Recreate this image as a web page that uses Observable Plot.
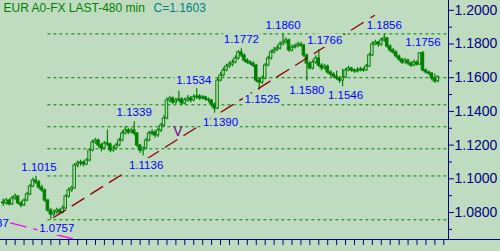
<!DOCTYPE html>
<html><head><meta charset="utf-8">
<script src="https://cdn.jsdelivr.net/npm/d3@7"></script>
<script src="https://cdn.jsdelivr.net/npm/@observablehq/plot@0.6"></script>
<style>
html,body{margin:0;padding:0;background:#c0dcc0;}
#chart svg{display:block;}
</style></head><body><div id="chart"></div>
<script>
const title = "EUR A0-FX LAST-480 min";
const firstOpen = 1.0860;
const closes = [
1.0854,1.0871,1.0848,1.0883,1.0895,1.0854,1.0842,1.0871,1.0907,1.0954,
1.0990,1.0978,1.0948,1.0931,1.0871,1.0812,1.0788,1.0800,1.0812,1.0800,
1.0824,1.0895,1.0931,1.0943,1.1079,1.1091,1.1097,1.1085,1.1109,1.1168,
1.1216,1.1227,1.1198,1.1180,1.1210,1.1204,1.1168,1.1180,1.1198,1.1227,
1.1269,1.1287,1.1275,1.1287,1.1269,1.1198,1.1168,1.1180,1.1227,1.1269,
1.1275,1.1257,1.1287,1.1316,1.1358,1.1465,1.1477,1.1453,1.1465,1.1471,
1.1447,1.1465,1.1477,1.1465,1.1483,1.1489,1.1477,1.1483,1.1471,1.1465,
1.1441,1.1417,1.1583,1.1613,1.1643,1.1667,1.1678,1.1690,1.1714,1.1750,
1.1732,1.1702,1.1690,1.1684,1.1672,1.1583,1.1572,1.1595,1.1672,1.1714,
1.1750,1.1762,1.1773,1.1797,1.1809,1.1821,1.1762,1.1779,1.1785,1.1797,
1.1791,1.1732,1.1684,1.1655,1.1690,1.1714,1.1672,1.1655,1.1666,1.1631,
1.1619,1.1607,1.1595,1.1583,1.1601,1.1643,1.1655,1.1643,1.1637,1.1643,
1.1649,1.1643,1.1666,1.1732,1.1797,1.1809,1.1797,1.1821,1.1833,1.1785,
1.1762,1.1750,1.1726,1.1708,1.1690,1.1702,1.1684,1.1672,1.1690,1.1678,
1.1745,1.1643,1.1631,1.1625,1.1595,1.1578,1.1603];
const highs = [
1.0880,1.0885,1.0878,1.0897,1.0910,1.0900,1.0866,1.0880,1.0918,1.0968,
1.1005,1.1015,1.0990,1.0962,1.0940,1.0878,1.0825,1.0815,1.0825,1.0822,
1.0840,1.0905,1.0945,1.0958,1.1090,1.1105,1.1110,1.1105,1.1120,1.1180,
1.1230,1.1240,1.1235,1.1210,1.1222,1.1290,1.1212,1.1195,1.1210,1.1240,
1.1285,1.1310,1.1300,1.1300,1.1339,1.1275,1.1205,1.1190,1.1240,1.1282,
1.1292,1.1285,1.1300,1.1330,1.1375,1.1480,1.1490,1.1485,1.1478,1.1520,
1.1482,1.1478,1.1495,1.1488,1.1500,1.1534,1.1500,1.1495,1.1490,1.1480,
1.1470,1.1450,1.1595,1.1630,1.1660,1.1680,1.1695,1.1705,1.1730,1.1760,
1.1772,1.1740,1.1712,1.1700,1.1695,1.1680,1.1595,1.1610,1.1685,1.1728,
1.1765,1.1780,1.1790,1.1812,1.1860,1.1835,1.1830,1.1795,1.1800,1.1812,
1.1810,1.1800,1.1740,1.1695,1.1705,1.1730,1.1766,1.1685,1.1680,1.1675,
1.1642,1.1630,1.1640,1.1605,1.1650,1.1655,1.1668,1.1662,1.1652,1.1660,
1.1662,1.1658,1.1680,1.1745,1.1812,1.1822,1.1815,1.1835,1.1856,1.1840,
1.1795,1.1775,1.1760,1.1735,1.1715,1.1715,1.1710,1.1695,1.1705,1.1700,
1.1750,1.1756,1.1652,1.1640,1.1630,1.1620,1.1612];
const lows = [
1.0835,1.0845,1.0838,1.0842,1.0872,1.0846,1.0828,1.0835,1.0864,1.0900,
1.0948,1.0965,1.0935,1.0920,1.0860,1.0800,1.0757,1.0775,1.0790,1.0785,
1.0792,1.0815,1.0885,1.0920,1.0938,1.1065,1.1075,1.1070,1.1078,1.1100,
1.1160,1.1205,1.1185,1.1160,1.1170,1.1192,1.1155,1.1158,1.1170,1.1190,
1.1220,1.1260,1.1262,1.1268,1.1255,1.1185,1.1150,1.1136,1.1172,1.1220,
1.1255,1.1240,1.1245,1.1275,1.1305,1.1350,1.1452,1.1440,1.1442,1.1455,
1.1435,1.1438,1.1455,1.1450,1.1458,1.1470,1.1465,1.1468,1.1460,1.1450,
1.1425,1.1390,1.1410,1.1575,1.1605,1.1635,1.1655,1.1665,1.1682,1.1705,
1.1720,1.1690,1.1680,1.1672,1.1660,1.1570,1.1525,1.1560,1.1588,1.1665,
1.1705,1.1740,1.1755,1.1765,1.1790,1.1800,1.1750,1.1752,1.1770,1.1778,
1.1780,1.1720,1.1580,1.1645,1.1645,1.1680,1.1660,1.1640,1.1645,1.1620,
1.1605,1.1595,1.1585,1.1565,1.1546,1.1595,1.1635,1.1632,1.1625,1.1628,
1.1635,1.1632,1.1638,1.1660,1.1725,1.1790,1.1780,1.1785,1.1810,1.1772,
1.1750,1.1738,1.1715,1.1695,1.1678,1.1682,1.1672,1.1660,1.1665,1.1668,
1.1672,1.1635,1.1620,1.1612,1.1580,1.1565,1.1570];

const yTicks = [1.08, 1.10, 1.12, 1.14, 1.16, 1.18, 1.20];
const yMinorTicks = [1.07, 1.09, 1.11, 1.13, 1.15, 1.17, 1.19];
const fibLevels = [1.1860, 1.1600, 1.1439, 1.1309, 1.1178, 1.1017, 1.0757];
const fibStartBar = 15;
const highLabels = [
  {i: 12, v: 1.1015}, {i: 44, v: 1.1339}, {i: 64, v: 1.1534}, {i: 80, v: 1.1772},
  {i: 94, v: 1.1860}, {i: 108, v: 1.1766}, {i: 128, v: 1.1856}, {i: 141, v: 1.1756}];
const lowLabels = [
  {i: -4, v: 1.0787}, {i: 18, v: 1.0757}, {i: 48, v: 1.1136}, {i: 73, v: 1.1390},
  {i: 87, v: 1.1525}, {i: 102, v: 1.1580}, {i: 115, v: 1.1546}];
const trendLine = [{i: 16.9, v: 1.0770}, {i: 124.7, v: 1.1969}];
const supportLine = [{i: 2.4, v: 1.0738}, {i: 30, v: 1.0614}];
const markers = [{i: 58.7, v: 1.1278, text: "V"}];
const xDomain = [-0.915, 149.58];
const yDomain = [1.06398, 1.20582];

const bars = closes.map((c, i) => ({i, open: i ? closes[i - 1] : firstOpen, close: c, high: highs[i], low: lows[i]}));
const xTicks = d3.range(1, 149, 3);

const bg = "#c0dcc0", green = "#008000", navy = "#000080";
const font = "Arial, 'Liberation Sans', sans-serif";

const chart = Plot.plot({
  width: 500, height: 251,
  marginTop: 0, marginLeft: 0, marginRight: 52, marginBottom: 12,
  style: {background: bg, fontFamily: font, overflow: "hidden"},
  x: {domain: xDomain, axis: null},
  y: {domain: yDomain, axis: null},
  marks: [
    Plot.ruleY(fibLevels, {x1: fibStartBar, x2: xDomain[1], stroke: green, strokeDasharray: "3,3", strokeWidth: 1}),
    Plot.ruleX(bars, {x: "i", y1: "low", y2: "high", stroke: green, strokeWidth: 1.2}),
    Plot.rect(bars, {x1: d => d.i - 0.42, x2: d => d.i + 0.42, y1: "open", y2: "close",
      fill: d => d.close >= d.open ? bg : green, stroke: green, strokeWidth: 1}),
    Plot.line(trendLine, {x: "i", y: "v", stroke: "#8b0000", strokeWidth: 1.3, strokeDasharray: "14,8", clip: true}),
    Plot.line(supportLine, {x: "i", y: "v", stroke: "#ff00ff", strokeWidth: 1.3, strokeDasharray: "16,8", clip: true}),
    Plot.text(highLabels, {x: "i", y: "v", text: d => d.v.toFixed(4), dy: -9, fill: "#0000ff", stroke: bg, strokeWidth: 6, fontSize: 11.5}),
    Plot.text(lowLabels, {x: "i", y: "v", text: d => d.v.toFixed(4), dy: 9, fill: "#0000ff", stroke: bg, strokeWidth: 6, fontSize: 11.5}),
    Plot.text(markers, {x: "i", y: "v", text: "text", fill: "#800080", fontSize: 14}),
    Plot.text([title], {text: d => d, frameAnchor: "top-left", dx: 3, dy: 3, lineAnchor: "top", textAnchor: "start", fill: green, fontSize: 12}),
    Plot.text([`C=${closes[closes.length - 1].toFixed(4)}`], {text: d => d, frameAnchor: "top-left", dx: 153, dy: 3, lineAnchor: "top", textAnchor: "start", fill: "#008080", fontSize: 12}),
    Plot.ruleX([xDomain[1]], {stroke: navy}),
    Plot.ruleY([yDomain[0]], {stroke: navy, insetRight: -52}),
    Plot.axisY(yTicks, {anchor: "right", tickSize: 5, tickPadding: 1, tickFormat: d3.format(".4f"), fontSize: 14, fontFamily: "'Liberation Sans Narrow', 'Arial Narrow', Arial, sans-serif", stroke: navy, fill: navy, label: null}),
    Plot.axisY(yMinorTicks, {anchor: "right", tickSize: 3, tickFormat: () => "", stroke: navy, label: null}),
    Plot.axisX(xTicks, {anchor: "bottom", tickSize: 6, tickFormat: () => "", stroke: navy, label: null})
  ]
});
document.getElementById("chart").appendChild(chart);
</script></body></html>
